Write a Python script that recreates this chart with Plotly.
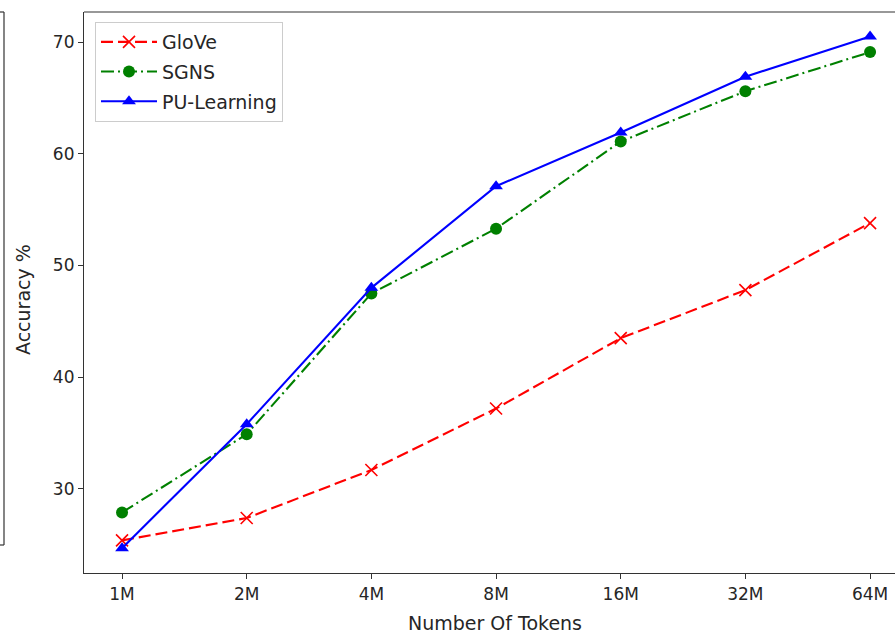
import plotly.graph_objects as go

categories = ["1M", "2M", "4M", "8M", "16M", "32M", "64M"]
glove = [25.4, 27.4, 31.7, 37.2, 43.5, 47.8, 53.8]
sgns = [27.9, 34.9, 47.5, 53.3, 61.1, 65.6, 69.1]
pu_learning = [24.7, 35.8, 48.0, 57.1, 61.9, 66.9, 70.5]
y_ticks = [30, 40, 50, 60, 70]

W, H = 895, 634
L, R, T, B = 84, 0, 12, 61
pw = W - L - R
ph = H - T - B

x_idx = list(range(len(categories)))

fig = go.Figure()
fig.add_trace(go.Scatter(
    x=x_idx, y=glove, name="GloVe", mode="lines+markers", legendgroup="a",
    line=dict(color="#ff0000", width=2.1, dash="12px,5px"),
    marker=dict(symbol="x-thin", size=12, line=dict(color="#ff0000", width=1.6), color="#ff0000"),
))
fig.add_trace(go.Scatter(
    x=x_idx, y=sgns, name="SGNS", mode="lines+markers", legendgroup="b",
    line=dict(color="#008000", width=2.1, dash="13px,4px,2px,4px"),
    marker=dict(symbol="circle", size=12, color="#008000"),
))
fig.add_trace(go.Scatter(
    x=x_idx, y=pu_learning, name="PU-Learning", mode="lines+markers", legendgroup="c",
    line=dict(color="#0000ff", width=2.1),
    marker=dict(symbol="triangle-up", size=12, color="#0000ff"),
))

tick_font = dict(family="DejaVu Sans", size=17, color="#262626")
label_font = dict(family="DejaVu Sans", size=19, color="#262626")

fig.update_layout(
    width=W, height=H,
    margin=dict(l=L, r=R, t=T, b=B, pad=0),
    paper_bgcolor="white", plot_bgcolor="white",
    font=tick_font,
    showlegend=True,
    legend=dict(
        x=(95 - L) / pw, y=(H - B - 22) / ph, xanchor="left", yanchor="top",
        bgcolor="rgba(255,255,255,0.8)", bordercolor="#cccccc", borderwidth=1,
        font=label_font,
        tracegroupgap=2, itemwidth=56,
    ),
    xaxis=dict(
        range=[-0.305, 6.2], tickmode="array", tickvals=x_idx, ticktext=categories,
        showgrid=False, zeroline=False, showline=True, linecolor="#333333", linewidth=1.2,
        ticks="outside", ticklen=5, tickcolor="#333333", tickwidth=1, mirror=False,
        tickfont=tick_font,
    ),
    yaxis=dict(
        range=[22.48, 72.69], tickmode="array", tickvals=y_ticks,
        showgrid=False, zeroline=False, showline=True, linecolor="#333333", linewidth=1.2,
        ticks="outside", ticklen=5, tickcolor="#333333", tickwidth=1, mirror=False,
        tickfont=tick_font,
    ),
    annotations=[
        dict(text="Number Of Tokens", xref="paper", yref="paper",
             x=(495 - L) / pw, y=-(623 - (H - B)) / ph, xanchor="center", yanchor="middle",
             showarrow=False, font=label_font),
        dict(text="Accuracy %", xref="paper", yref="paper",
             x=(23 - L) / pw, y=(H - B - 300) / ph, xanchor="center", yanchor="middle",
             textangle=-90, showarrow=False, font=label_font),
    ],
    shapes=[
        dict(type="line", xref="paper", yref="paper", x0=0, x1=1.01, y0=1, y1=1,
             line=dict(color="#333333", width=1.2)),
        dict(type="line", xref="paper", yref="paper",
             x0=(4 - L) / pw, x1=(4 - L) / pw, y0=1, y1=(H - B - 545) / ph,
             line=dict(color="#333333", width=1.2)),
        dict(type="line", xref="paper", yref="paper",
             x0=-L / pw, x1=(4 - L) / pw, y0=1, y1=1,
             line=dict(color="#333333", width=1.2)),
        dict(type="line", xref="paper", yref="paper",
             x0=-L / pw, x1=(4 - L) / pw, y0=(H - B - 545) / ph, y1=(H - B - 545) / ph,
             line=dict(color="#333333", width=1.2)),
    ],
)

fig.write_html(
    "out.html",
    config={"displayModeBar": False},
    post_script="document.body.style.margin='0';document.body.style.overflow='hidden';",
)
